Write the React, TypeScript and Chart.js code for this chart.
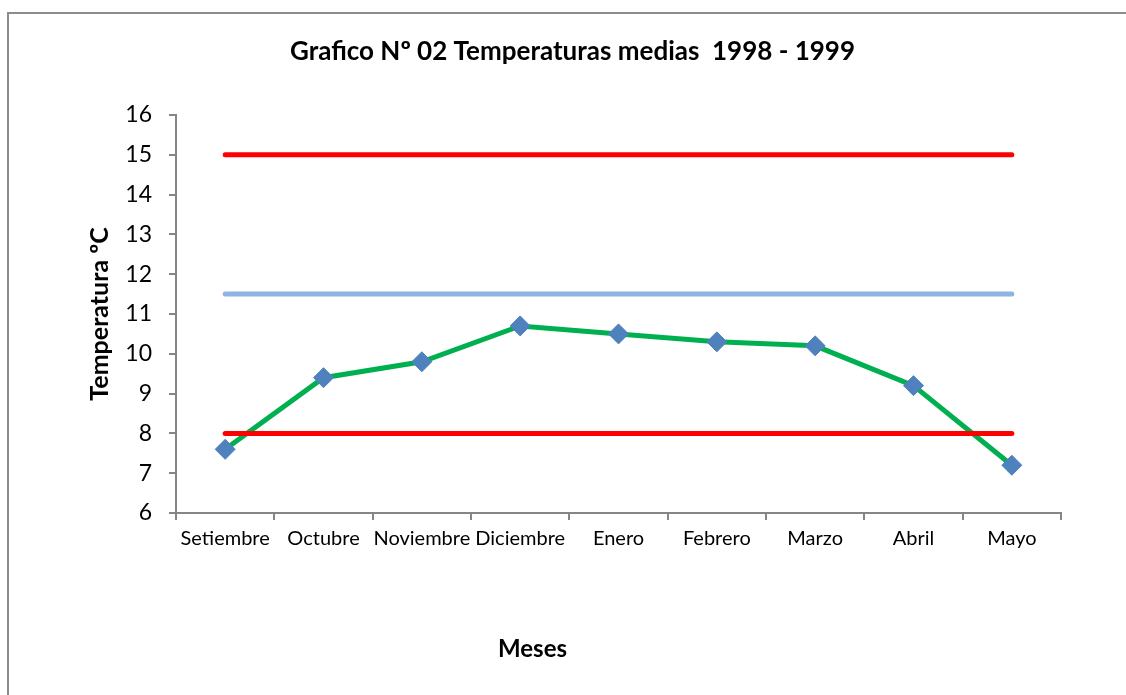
import React, { useEffect, useRef } from "react";
import { Chart, registerables } from "chart.js";

Chart.register(...registerables);

const chartTitle = "Grafico Nº 02 Temperaturas medias  1998 - 1999";
const xAxisTitle = "Meses";
const yAxisTitle = "Temperatura ºC";
const months = ["Setiembre", "Octubre", "Noviembre", "Diciembre", "Enero", "Febrero", "Marzo", "Abril", "Mayo"];
const meanTemps = [7.6, 9.4, 9.8, 10.7, 10.5, 10.3, 10.2, 9.2, 7.2];
const upperLimit = [15, 15, 15, 15, 15, 15, 15, 15, 15];
const optimum = [11.5, 11.5, 11.5, 11.5, 11.5, 11.5, 11.5, 11.5, 11.5];
const lowerLimit = [8, 8, 8, 8, 8, 8, 8, 8, 8];
const yMin = 6;
const yMax = 16;

const FONT = "Lato, 'Open Sans', sans-serif";
const AXIS_GRAY = "#868686";

export default function App() {
  const ref = useRef<HTMLCanvasElement | null>(null);

  useEffect(() => {
    if (!ref.current) return;
    const textPlugin = {
      id: "textPlugin",
      afterDraw(chart: any) {
        const ctx = chart.ctx;
        const area = chart.chartArea;
        ctx.save();
        ctx.fillStyle = "#000";
        ctx.textAlign = "center";
        ctx.textBaseline = "middle";
        ctx.font = `bold 26px ${FONT}`;
        ctx.fillText(chartTitle, (area.left + area.right) / 2 - 46, area.top - 63);
        ctx.font = `bold 24px ${FONT}`;
        ctx.fillText(xAxisTitle, (area.left + area.right) / 2 - 86, area.bottom + 136);
        ctx.restore();
      },
    };

    const lineBase = {
      borderWidth: 5,
      pointRadius: 0,
      pointHoverRadius: 0,
      borderCapStyle: "round" as const,
      tension: 0,
    };

    const chart = new Chart(ref.current, {
      type: "line",
      data: {
        labels: months,
        datasets: [
          { ...lineBase, label: "Máxima", data: upperLimit, borderColor: "#FF0000", order: 0 },
          { ...lineBase, label: "Óptima", data: optimum, borderColor: "#8DB4E2", order: 0 },
          { ...lineBase, label: "Mínima", data: lowerLimit, borderColor: "#FF0000", order: 0 },
          {
            label: "Temperatura media",
            data: meanTemps,
            borderColor: "#00B050",
            borderWidth: 5,
            pointStyle: "rectRot",
            pointRadius: 10,
            pointHoverRadius: 10,
            pointBackgroundColor: "#4F81BD",
            pointBorderColor: "#4F81BD",
            pointBorderWidth: 1,
            tension: 0,
            order: 1,
          },
        ],
      },
      options: {
        animation: false,
        responsive: false,
        events: [],
        layout: { padding: { left: 0, top: 115, right: 65, bottom: 0 } },
        plugins: {
          legend: { display: false },
          tooltip: { enabled: false },
          title: { display: false },
        },
        scales: {
          x: {
            type: "category",
            offset: true,
            grid: {
              offset: true,
              drawOnChartArea: false,
              drawTicks: true,
              tickLength: 7,
              color: AXIS_GRAY,
              lineWidth: 2,
            },
            border: { display: true, color: AXIS_GRAY, width: 2 },
            ticks: {
              color: "#000",
              font: { family: FONT, size: 20 },
              padding: 7,
              maxRotation: 0,
              autoSkip: false,
            },
            afterFit(scale: any) {
              scale.height = 182;
            },
          },
          y: {
            min: yMin,
            max: yMax,
            grid: {
              drawOnChartArea: false,
              drawTicks: true,
              tickLength: 7,
              color: AXIS_GRAY,
              lineWidth: 2,
            },
            border: { display: true, color: AXIS_GRAY, width: 2 },
            ticks: {
              stepSize: 1,
              color: "#000",
              font: { family: FONT, size: 23 },
              padding: 17,
            },
            title: {
              display: true,
              text: yAxisTitle,
              color: "#000",
              font: { family: FONT, size: 25, weight: "bold" },
              padding: { top: 85, bottom: 0 },
            },
            afterFit(scale: any) {
              scale.width = 176;
            },
          },
        },
      },
      plugins: [textPlugin],
    });
    return () => chart.destroy();
  }, []);

  return (
    <div
      style={{
        position: "fixed",
        left: 0,
        top: 0,
        width: 1126,
        height: 695,
        overflow: "hidden",
        background: "#fff",
      }}
    >
      <div
        style={{
          position: "absolute",
          left: 7,
          top: 12,
          width: 1200,
          height: 800,
          border: "2px solid #8C8C8C",
        }}
      />
      <canvas ref={ref} width={1126} height={695} style={{ position: "absolute", left: 0, top: 0 }} />
    </div>
  );
}
